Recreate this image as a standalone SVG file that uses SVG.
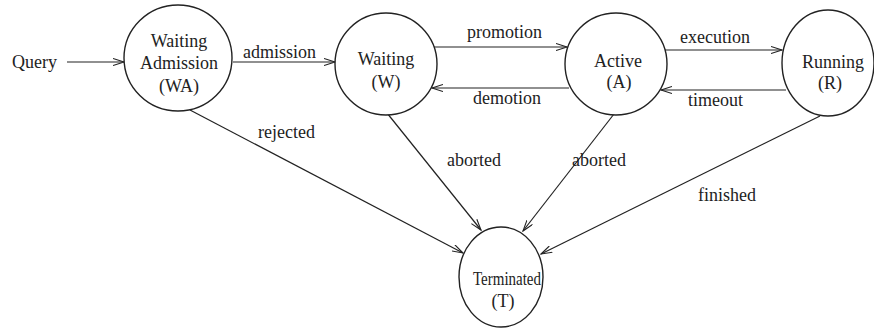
<svg xmlns="http://www.w3.org/2000/svg" width="874" height="331" viewBox="0 0 874 331">
<defs>
<marker id="arr" markerWidth="12" markerHeight="8" refX="11" refY="4" orient="auto" markerUnits="userSpaceOnUse">
<path d="M0,0.5 L11,4 L0,7.5" fill="none" stroke="#222" stroke-width="1.1"/>
</marker>
<style>
.n{fill:#fff;stroke:#222;stroke-width:1.4}
.t{font-family:"Liberation Serif","Times New Roman",serif;font-size:18px;fill:#222;text-anchor:middle}
.l{font-family:"Liberation Serif","Times New Roman",serif;font-size:18px;fill:#222}
.e{fill:none;stroke:#222;stroke-width:1.2;marker-end:url(#arr)}
</style>
</defs>
<rect width="874" height="331" fill="#fff"/>
<g id="connectors">
<line class="e" x1="67" y1="62" x2="124" y2="62"/>
<line class="e" x1="233" y1="62" x2="335" y2="62"/>
<line class="e" x1="434" y1="47" x2="567" y2="47"/>
<line class="e" x1="569" y1="88" x2="432" y2="88"/>
<line class="e" x1="665" y1="50" x2="782" y2="50"/>
<line class="e" x1="786" y1="90" x2="661" y2="90"/>
<line class="e" x1="190" y1="110" x2="463" y2="253"/>
<line class="e" x1="387" y1="113" x2="481" y2="230"/>
<line class="e" x1="614" y1="114" x2="523" y2="231"/>
<line class="e" x1="820" y1="116" x2="541" y2="254"/>
</g>
<g id="labels">
<text class="l" x="12" y="68">Query</text>
<text class="l" x="243" y="58">admission</text>
<text class="l" x="467" y="38">promotion</text>
<text class="l" x="473" y="104">demotion</text>
<text class="l" x="680" y="43">execution</text>
<text class="l" x="688" y="106">timeout</text>
<text class="l" x="258" y="138">rejected</text>
<text class="l" x="447" y="166">aborted</text>
<text class="l" x="572" y="166">aborted</text>
<text class="l" x="698" y="201">finished</text>
</g>
<g id="WA">
<ellipse class="n" cx="178" cy="58" rx="54" ry="53"/>
<text class="t" x="179" y="47">Waiting</text>
<text class="t" x="179" y="69">Admission</text>
<text class="t" x="179" y="92">(WA)</text>
</g>
<g id="W">
<circle class="n" cx="386" cy="64" r="51"/>
<text class="t" x="386" y="65">Waiting</text>
<text class="t" x="386" y="88">(W)</text>
</g>
<g id="A">
<circle class="n" cx="616" cy="64" r="51"/>
<text class="t" x="618" y="67">Active</text>
<text class="t" x="619" y="88">(A)</text>
</g>
<g id="R">
<ellipse class="n" cx="828" cy="63" rx="46" ry="53"/>
<text class="t" x="833" y="68">Running</text>
<text class="t" x="830" y="89">(R)</text>
</g>
<g id="T">
<ellipse class="n" cx="501" cy="277" rx="42" ry="50"/>
<text class="t" x="507" y="285" textLength="68" lengthAdjust="spacingAndGlyphs">Terminated</text>
<text class="t" x="503" y="307">(T)</text>
</g>
</svg>
